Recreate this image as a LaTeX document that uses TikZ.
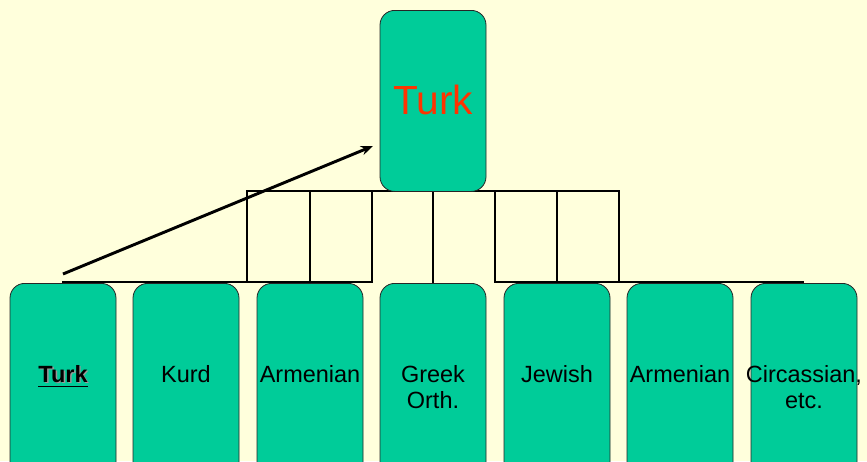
\documentclass[tikz,border=0pt]{standalone}
\usepackage{fontspec}
\setmainfont{Liberation Sans}
\usetikzlibrary{arrows.meta,positioning}
\definecolor{slidebg}{RGB}{255,255,220}
\definecolor{groupgreen}{RGB}{0,204,153}
\definecolor{turkred}{RGB}{255,51,0}
\newcommand{\shadowword}[1]{\leavevmode\rlap{\kern1.1pt\raisebox{-1.1pt}{\textcolor{black!40}{#1}}}#1}

\begin{document}
\begin{tikzpicture}[x=0.75pt,y=0.75pt,yscale=-1,xscale=1,
	group/.style={draw=black!85, line width=0.6pt, fill=groupgreen, rounded corners=11pt, minimum width=79.5pt, anchor=north},
	bar/.style={line width=2.2pt, line cap=rect},
	grouplabel/.style={anchor=north, inner sep=0pt, align=center, font=\fontsize{17.6}{19.5}\selectfont}
	]
	% slide background
	\clip (0,0) rectangle (867,461);
	\fill[slidebg] (0,0) rectangle (867,461);
	
	% Bars
	\coordinate (barNW) at (247,191);
	\coordinate (barNE) at (619,191);
	\draw[bar] (barNW) -- (barNE);
	\foreach \x in {247,310,372,433,495,557,619}
		\draw[bar] (\x,191) -- (\x,282);
	\draw[bar] (63,282) -- (372,282);
	\draw[bar] (495,282) -- (803,282);
	
	% Top group
	\node[group, minimum height=135.75pt] (turkTop) at (433,10) {};
	\node[text=turkred, font=\fontsize{30.5}{36}\selectfont] (turkTopL) at (433,100) {Turk};
	
	% Bottom groups
	\node[group, minimum height=145pt] (turk) at (63,283) {};
	\node[group, minimum height=145pt] (kurd) at (186,283) {};
	\node[group, minimum height=145pt] (armenianA) at (310,283) {};
	\node[group, minimum height=145pt] (greek) at (433,283) {};
	\node[group, minimum height=145pt] (jewish) at (557,283) {};
	\node[group, minimum height=145pt] (armenianB) at (680,283) {};
	\node[group, minimum height=145pt] (circassian) at (804,283) {};
	
	% Text Node
	\node[grouplabel] (turkL) at (63,365) {\underline{\shadowword{\textbf{Turk}}}};
	\node[grouplabel] (kurdL) at (186,365) {Kurd};
	\node[grouplabel] (armenianAL) at (310,365) {Armenian};
	\node[grouplabel] (greekL) at (433,365) {Greek\\Orth.};
	\node[grouplabel] (jewishL) at (557,365) {Jewish};
	\node[grouplabel] (armenianBL) at (680,365) {Armenian};
	\node[grouplabel] (circassianL) at (804,365) {Circassian,\\etc.};
	
	% Arrow
	\coordinate (arrowFoot) at (63,274);
	\coordinate (arrowTip) at (373,146);
	\draw[line width=2.2pt, -{Stealth[length=9pt,width=7pt]}] (arrowFoot) -- (arrowTip);
\end{tikzpicture}
\end{document}
